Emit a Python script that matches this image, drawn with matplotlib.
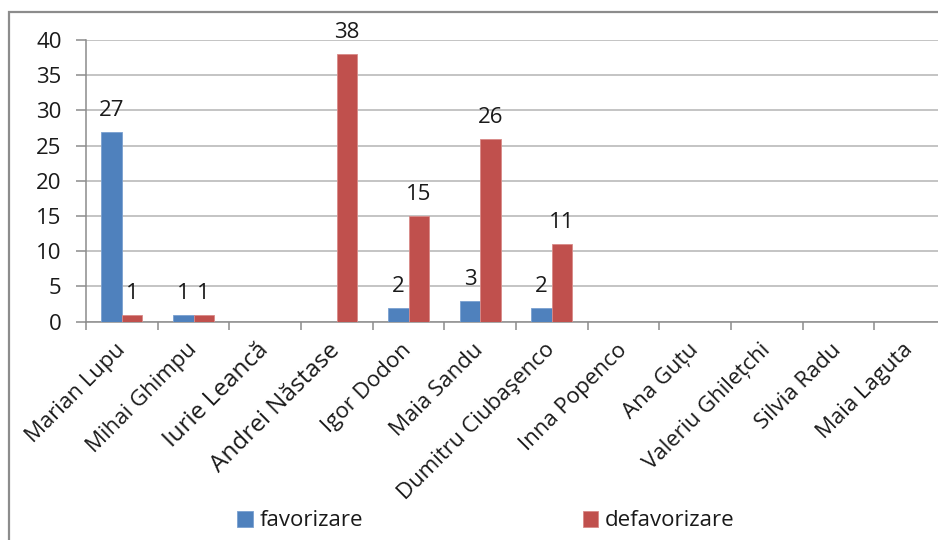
import matplotlib
matplotlib.use("Agg")
import matplotlib.pyplot as plt
from matplotlib.patches import Rectangle
import numpy as np

plt.rcParams['font.family'] = ['Open Sans', 'DejaVu Sans']

categories = ["Marian Lupu", "Mihai Ghimpu", "Iurie Leancă", "Andrei Năstase",
              "Igor Dodon", "Maia Sandu", "Dumitru Ciubaşenco", "Inna Popenco",
              "Ana Guțu", "Valeriu Ghilețchi", "Silvia Radu", "Maia Laguta"]
favorizare = [27, 1, 0, 0, 2, 3, 2, 0, 0, 0, 0, 0]
defavorizare = [1, 1, 0, 38, 15, 26, 11, 0, 0, 0, 0, 0]
series_names = ["favorizare", "defavorizare"]
y_ticks = [0, 5, 10, 15, 20, 25, 30, 35, 40]

W, H = 938, 540
fig = plt.figure(figsize=(W / 100, H / 100), dpi=100)
fig.patch.set_facecolor("white")

# chart frame (runs off the right and bottom edges)
fig.patches.append(Rectangle((9 / W, -0.2), 1.2, 1.2 - 12 / H,
                             transform=fig.transFigure, fill=False,
                             edgecolor="#8c8c8c", linewidth=1.6, zorder=0))

ax = fig.add_axes([86 / W, 218.3 / H, 860 / W, 281.7 / H])
ax.set_facecolor("none")

blue = "#4f81bd"
red = "#c0504d"
txt = "#1a1a1a"
fs = 16
x = np.arange(len(categories))
w = 0.286
bars1 = ax.bar(x - w / 2, favorizare, w, color=blue, edgecolor="#7aa0d0",
               linewidth=0.6, label=series_names[0], zorder=3)
bars2 = ax.bar(x + w / 2, defavorizare, w, color=red, edgecolor="#d98a88",
               linewidth=0.6, label=series_names[1], zorder=3)
for b in list(bars1) + list(bars2):
    if b.get_height() == 0:
        b.set_visible(False)

for xs, vals in ((x - w / 2, favorizare), (x + w / 2, defavorizare)):
    for xi, v in zip(xs, vals):
        if v:
            ax.annotate(str(v), (xi, v), xytext=(0, 11.5), textcoords="offset points",
                        ha="center", va="baseline", fontsize=fs, color=txt)

ax.set_xlim(-0.5, len(categories) - 0.5)
ax.set_ylim(0, 40)
ax.set_yticks(y_ticks)
ax.yaxis.grid(True, color="#b4b4b4", linewidth=1.1, zorder=0)
ax.set_axisbelow(True)

for s in ("top", "right"):
    ax.spines[s].set_visible(False)
for s in ("left", "bottom"):
    ax.spines[s].set_color("#8c8c8c")
    ax.spines[s].set_linewidth(1.1)

ax.tick_params(axis="y", length=7, width=1.1, color="#8c8c8c", pad=10.5,
               labelsize=fs, labelcolor=txt)
ax.set_xticks(np.arange(len(categories) + 1) - 0.5)
ax.set_xticklabels([])
ax.tick_params(axis="x", which="major", length=6, width=1.1, color="#8c8c8c")
ax.set_xticks(x, minor=True)
ax.set_xticklabels(categories, minor=True, rotation=45, ha="right",
                   va="center", rotation_mode="anchor", fontsize=fs,
                   color=txt)
ax.tick_params(axis="x", which="minor", length=0, pad=18)
for lbl in ax.get_xticklabels(minor=True):
    if "ă" in lbl.get_text():
        lbl.set_fontsize(17.5)

fig.legend(handles=[bars1, bars2], labels=series_names, loc="center left",
           bbox_to_anchor=(237 / W, 1 - 521 / H), ncol=2, frameon=False,
           fontsize=fs, handlelength=0.7, handleheight=0.7,
           handletextpad=0.3, columnspacing=9.9, borderaxespad=0,
           borderpad=0, labelcolor=txt)

fig.savefig("out.png", dpi=100)
